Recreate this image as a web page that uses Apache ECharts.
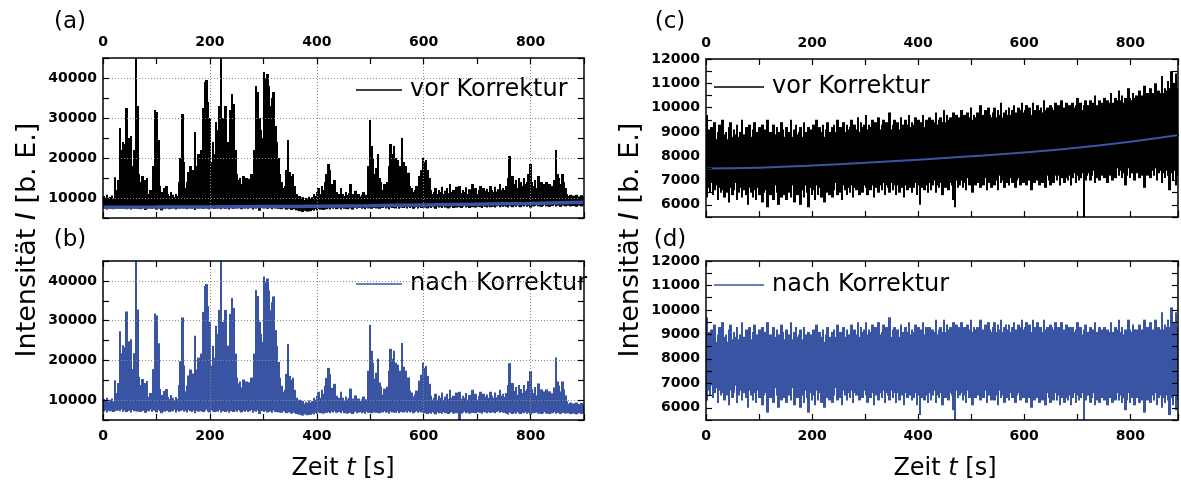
<!DOCTYPE html>
<html><head><meta charset="utf-8">
<script src="https://cdn.jsdelivr.net/npm/echarts@6/dist/echarts.min.js"></script>
<style>html,body{margin:0;padding:0;background:#fff}#c{width:1181px;height:483px}</style>
</head><body><div id="c"></div>
<script>
// ---------- data ----------
const binWidth = 3; // seconds per sample bin (each bin: max / min)
const xLabelValues = [0, 200, 400, 600, 800];
const yLabelsAB = [10000, 20000, 30000, 40000];
const yLabelsCD = [6000, 7000, 8000, 9000, 10000, 11000, 12000];
const xGridValues = [200, 400, 600, 800];
const yGridAB = [10000, 20000, 30000, 40000];

// (a) vor Korrektur – bin maxima / minima
const aHi = [
10500,10000,10800,9800,10300,10600,9900,15200,12000,14500,
27500,22000,24000,23500,32500,21000,25000,25500,18000,22000,
46000,33000,16000,14000,15500,12000,14500,15000,11000,12000,
10800,18000,32000,31500,24500,13000,11500,10500,12500,13000,
11000,10500,11500,10800,10200,11000,10500,14000,20000,31000,
19000,12500,14000,16500,18000,13000,17000,26500,18000,21000,
16000,22000,32500,39000,39500,34000,30000,19000,24000,21000,
29000,27000,33000,46000,30000,28000,33000,24000,21000,32000,
36000,33500,22000,16000,14500,15000,13500,15500,14000,15000,
13500,14800,16000,15000,22000,38000,36500,30000,27000,25000,
41500,40000,41000,38000,33000,35000,36500,28000,24000,20000,
16000,14000,12500,13000,17000,24500,16500,15500,16000,13000,
11000,10000,10500,9800,10200,9500,10000,9700,10300,9800,
10200,11000,10500,11500,12500,11000,13000,12000,14000,16000,
18500,17000,13500,12000,14500,11500,10800,11000,12500,11000,
10500,11500,10800,11200,13500,11000,10500,11800,10600,11000,
10400,10800,11500,10500,10800,18000,29500,23000,20000,16000,
17500,21000,15000,14000,12000,13500,12500,14000,18000,23500,
21000,23000,20000,19500,17000,18000,25000,19000,18000,14000,
16300,13000,12500,11500,12000,13000,12000,15500,17000,20000,
19000,19500,17000,15000,12000,11000,11500,12500,11000,12000,
11500,12800,11000,11800,12500,11200,13500,11500,12000,11000,
12800,11500,13000,11200,12000,11500,12700,11000,12200,11500,
13500,11800,12500,11000,12000,13000,11500,12500,11800,12300,
11500,13000,12000,11500,12800,11600,12200,13500,12000,12500,
12000,13000,15000,20500,14000,15500,13500,14500,12500,15000,
14000,13000,15000,13500,14000,16000,18500,14000,13000,14500,
12500,15500,13000,14000,12500,13500,14000,12800,13500,12500,
13000,14500,22000,16000,15000,13500,16000,14000,12500,11000,
10500,10800,10200,10600,10300,10800,10400,10200,10700,10300];
const aLo = [
7300,7600,7100,7500,7400,7700,7200,7800,7500,7600,
7400,7900,7300,7600,7200,7800,7500,7100,7700,7400,
7600,7300,7800,7200,7500,7700,7000,7600,7400,7800,
7300,7600,7500,7100,7700,7400,6900,7600,7300,7500,
7700,7200,7500,7400,7800,7100,7600,7300,7500,7700,
7400,7600,7200,7800,7500,7300,7700,7000,7600,7400,
7800,7500,7300,7600,7900,7400,7200,7700,7500,7300,
7600,7400,7800,7200,7500,7700,7300,7600,7100,7500,
7700,7300,7600,7400,7800,7500,7200,7600,7400,7700,
7300,7500,7800,7100,7600,7400,7700,6800,7500,7600,
7400,7700,7300,7600,7500,7200,7800,7400,7600,7300,
7500,7200,7600,7400,7100,7500,7300,7000,7400,7200,
6900,7200,6700,7000,6500,6800,7100,6600,6900,6700,
7000,6800,7200,6900,7300,7100,7400,7000,7300,7200,
7400,7100,7500,7300,7600,7200,7500,7400,7100,7600,
7300,7500,7200,7600,7400,7100,7500,7700,7300,7500,
7600,7300,7500,7200,7700,7400,7600,7300,7800,7500,
7400,7700,7300,7600,7500,7800,7400,7600,7200,7700,
7500,7700,7400,7800,7300,7600,7900,7500,7700,7400,
7800,7500,7700,7300,7600,7800,7400,7700,7500,7900,
7600,7800,7400,7700,7500,7900,7600,7300,7800,7600,
7700,7500,7900,7600,7800,7400,7700,7900,7500,7800,
7600,7900,7700,7500,7800,8000,7600,7800,7500,7900,
7700,7900,7600,7800,8000,7700,7500,7900,7800,7600,
7900,7700,8000,7800,7600,7900,8100,7700,7900,7800,
8000,7800,7600,8100,7900,7700,8000,7800,8200,7900,
7700,8000,7900,8200,7800,8000,7600,8100,7900,8000,
8200,7900,8100,7800,8000,8300,7900,8100,7800,8200,
8000,8300,7900,8100,8200,7800,8100,8300,7900,8200,
8100,7900,8300,8000,8200,7800,8100,8300,7900,8100];
// (a) baseline fit
const fitATime = [0, 100, 200, 300, 400, 500, 600, 700, 800, 900];
const fitAVal  = [7700, 7720, 7780, 7850, 7950, 8080, 8250, 8450, 8650, 8950];

// (b) nach Korrektur
const bHi = [
10300,9800,10600,9600,10100,10400,9700,15000,11800,14300,
27300,21800,23800,23300,32300,20800,24800,25300,17800,21800,
45800,32800,15800,13800,15300,11800,14300,14800,10800,11800,
10600,17800,31800,31300,24300,12800,11300,10300,12300,12800,
10800,10300,11300,10600,10000,10800,10300,13800,19800,30800,
18700,12200,13700,16200,17700,12700,16700,26200,17700,20700,
15700,21700,32200,38700,39200,33700,29700,18700,23700,20700,
28700,26700,32700,45700,29700,27700,32700,23700,20700,31700,
35700,33200,21700,15700,14200,14700,13200,15200,13700,14700,
13200,14500,15700,14700,21700,37700,36200,29700,26700,24700,
41100,39600,40600,37600,32600,34600,36100,27600,23600,19600,
15600,13600,12100,12600,16600,24100,16100,15100,15600,12600,
10600,9600,10100,9400,9800,9100,9600,9300,9900,9400,
9800,10600,10100,11100,12100,10600,12600,11600,13600,15600,
18100,16600,13100,11600,14100,11100,10400,10600,12100,10600,
9900,10900,10200,10600,12900,10400,9900,11200,10000,10400,
9800,10200,10900,9900,10200,17400,28900,22400,19400,15400,
16900,20400,14400,13400,11400,12900,11900,13400,17400,22900,
20400,22400,19400,18900,16400,17400,24400,18400,17400,13400,
15700,12400,11900,10900,11400,12400,11400,14900,16400,19400,
18100,18600,16100,14100,11100,10100,10600,11600,10100,11100,
10600,11900,10100,10900,11600,10300,12600,10600,11100,10100,
11900,10600,12100,10300,11100,10600,11800,10100,11300,10600,
12600,10900,11600,10100,11100,12100,10600,11600,10900,11400,
10600,12100,11100,10600,11900,10700,11300,12600,11100,11600,
10800,11800,13800,19300,12800,14300,12300,13300,11300,13800,
12800,11800,13800,12300,12800,14800,17300,12800,11800,13300,
11200,14200,11700,12700,11200,12200,12700,11500,12200,11200,
11700,13200,20700,14700,13700,12200,14700,12700,11200,9700,
9100,9400,8800,9200,8900,9400,9000,8800,9300,8900];
const bLo = [
7100,7400,6900,7300,7200,7500,7000,7600,7300,7400,
7200,7700,7100,7400,7000,7600,7300,6900,7500,7200,
7400,7100,7600,7000,7300,7500,6800,7400,7200,7600,
7100,7400,7300,6900,7500,7200,6700,7400,7100,7300,
7500,7000,7300,7200,7600,6900,7400,7100,7300,7500,
7100,7300,6900,7500,7200,7000,7400,6700,7300,7100,
7500,7200,7000,7300,7600,7100,6900,7400,7200,7000,
7300,7100,7500,6900,7200,7400,7000,7300,6800,7200,
7400,7000,7300,7100,7500,7200,6900,7300,7100,7400,
7000,7200,7500,6800,7300,7100,7400,6500,7200,7300,
7000,7300,6900,7200,7100,6800,7400,7000,7200,6900,
7100,6800,7200,7000,6700,7100,6900,6600,7000,6800,
6500,6800,6300,6600,6100,6400,6700,6200,6500,6300,
6600,6400,6800,6500,6900,6700,7000,6600,6900,6800,
7000,6700,7100,6900,7200,6800,7100,7000,6700,7200,
6700,6900,6600,7000,6800,6500,6900,7100,6700,6900,
7000,6700,6900,6600,7100,6800,7000,6700,7200,6900,
6800,7100,6700,7000,6900,7200,6800,7000,6600,7100,
6900,7100,6800,7200,6700,7000,7300,6900,7100,6800,
7200,6900,7100,6700,7000,7200,6800,7100,6900,7300,
6700,6900,6500,6800,6600,7000,6700,6400,6900,6700,
6800,6600,7000,6700,6900,6500,6800,7000,6600,6900,
6700,7000,4800,6600,6900,7100,6700,6900,6600,7000,
6800,7000,6700,6900,7100,6800,6600,7000,6900,6700,
7000,6800,7100,6900,6700,7000,7200,6800,7000,6900,
6800,6600,6400,6900,6700,6500,6800,6600,7000,6700,
6500,6800,6700,7000,6600,6800,6400,6900,6700,6800,
6900,6600,6800,6500,6700,7000,6600,6800,6500,6900,
6700,7000,6600,6800,6900,6500,6800,7000,6600,6900,
6700,6500,6900,6600,6800,6400,6700,6900,6500,6700];

// (c) vor Korrektur
const cHi = [
9700,9100,8800,9200,8900,9400,8700,9000,9300,8800,
9500,8900,9000,8700,9200,9400,8800,9100,8900,9300,
8800,9000,9500,8900,8700,9200,9000,9300,8800,9100,
9400,8900,9000,9200,8700,9300,8800,9100,9500,8900,
9000,8800,9300,8900,9200,9000,8700,9400,9100,8800,
9200,8900,9000,9500,8800,9100,9300,8900,9000,9200,
8800,9400,9000,8900,9200,9100,8700,9300,9000,9500,
8900,9200,9000,9300,8800,9100,9400,9000,8900,9200,
9300,9000,9500,8900,9200,9100,9400,9000,9300,9100,
9200,9500,9000,9300,9100,9600,9000,9400,9200,9300,
9700,9100,9300,9200,9500,9000,9400,9200,9600,9100,
9300,9500,9100,9400,9200,9800,9100,9300,9500,9200,
9400,9100,9600,9300,9200,9500,9300,9700,9200,9400,
9300,9600,9200,9500,9300,9400,9700,9200,9500,9300,
9600,9300,9500,9400,9800,9300,9500,9600,9400,9900,
9400,9700,9500,9600,9400,9800,9500,9700,9400,9600,
9900,9500,9700,9400,9800,9600,10000,9500,9700,9600,
9800,9500,10100,9600,9700,9900,9500,10000,9700,9600,
9800,10000,9600,9900,9700,10200,9600,9800,9900,9700,
10000,9700,9900,10100,9800,9700,10000,9900,10200,9800,
9900,10100,9800,10000,9700,10200,9900,9800,10100,9900,
10000,9800,10300,9900,10000,9800,10100,10000,9900,10200,
9900,10100,10000,10300,9900,10000,10200,9900,10100,10000,
10200,10000,10100,10400,10000,10200,9900,10100,10300,10000,
10100,10300,10000,10200,10500,10100,10000,10300,10200,10100,
10400,10100,10300,10200,10600,10200,10100,10400,10300,10700,
10300,10500,10200,10400,10300,10800,10400,10300,10600,10400,
10500,10300,10700,10400,10500,10900,10400,10600,10500,10800,
10600,10400,11000,10500,10700,10600,11300,10600,10800,10700,
11100,10800,11500,10900,11000,11400,10800,11200,11000,11300];
const cLo = [
6300,6700,6500,6900,6400,6600,6800,6200,6700,6500,
6600,6300,6800,6500,6100,6700,6400,6600,6900,6200,
6500,6700,6300,6600,6800,6400,6000,6700,6500,6300,
6600,6200,6700,6400,6800,6100,6500,6600,5900,6700,
6400,6600,6200,6800,6500,6000,6700,6300,6600,6400,
6200,6700,6500,6300,6800,6100,6600,6400,6700,6000,
6600,6300,6800,6500,5900,6700,6400,6600,6200,6800,
6400,6700,6300,6600,6100,6800,6500,6400,6700,6300,
6600,6900,6400,6700,6500,6200,6800,6600,6400,6700,
6500,6800,6300,6700,6600,6900,6400,6700,6500,6800,
6700,6400,6900,6600,6800,6300,6700,6900,6500,6800,
6600,6900,6400,6800,6700,6500,6900,6600,6800,6400,
6800,6500,6900,6700,6300,6800,6600,6900,6700,6500,
6700,6900,6400,6800,6000,6700,6900,6600,6800,6500,
6900,6600,6800,7000,6500,6800,6700,6900,6400,6800,
6700,7000,6600,6900,6800,6200,5900,7000,6700,6800,
7000,6700,6900,6600,7100,6800,6900,6500,7000,6800,
6900,7100,6700,7000,6800,7100,6600,6900,7000,6700,
7100,6800,7000,6600,7200,6900,7000,6700,7100,6900,
6800,7100,6900,7200,6700,7000,7100,6800,7200,6900,
7100,6800,7200,7000,6600,7100,6900,7200,7000,6800,
7200,6900,7100,6700,7200,7000,6800,7100,6900,7200,
7000,7200,6800,7100,7300,6900,7100,7000,7200,6800,
7100,7300,6900,7200,7000,7100,7300,5400,7000,7200,
7300,7000,7200,7400,6900,7100,7300,7000,7200,7400,
7100,7300,6900,7200,7400,7000,7300,7100,7500,7200,
7400,7100,7300,6800,7200,7500,7100,7300,7400,7000,
7300,7500,7100,7400,7200,6700,7400,7200,7500,7100,
7400,7200,7500,7000,7300,7400,6900,7300,7100,7400,
7200,6600,7300,7000,7400,6800,7200,7100,6500,7300];
const fitCTime = [0, 100, 200, 300, 400, 500, 600, 700, 800, 900];
const fitCVal  = [7500, 7530, 7620, 7730, 7860, 8000, 8150, 8350, 8600, 8900];

// (d) nach Korrektur
const dHi = [
9700,9100,8800,9200,8900,9400,8700,9000,9300,8800,
9500,8900,9000,8700,9200,9400,8800,9100,8900,9300,
8800,9000,9500,8900,8700,9200,9000,9300,8800,9100,
9400,8900,9000,9200,8700,9300,8800,9100,9500,8900,
9000,8800,9300,8900,9200,9000,8700,9400,9100,8800,
9200,8900,9000,9500,8800,9100,9300,8900,9000,9200,
8800,9300,9000,8900,9100,9000,8700,9200,8900,9400,
8800,9100,8900,9200,8700,9000,9300,8900,8800,9100,
9200,8900,9400,8800,9100,9000,9300,8900,9200,9000,
9000,9400,8900,9200,9000,9500,8900,9300,9100,9200,
9500,9000,9200,9100,9400,8900,9300,9100,9500,9000,
9100,9400,8900,9300,9000,9700,8900,9200,9300,9000,
9200,8900,9400,9100,9000,9300,9100,9500,9000,9200,
9100,9400,9000,9300,9100,9200,9500,9000,9300,9100,
9300,9000,9200,9100,9600,9000,9200,9300,9100,9600,
9100,9400,9200,9300,9100,9500,9200,9400,9100,9300,
9500,9100,9300,9000,9400,9200,9600,9100,9300,9200,
9300,9000,9600,9100,9200,9400,9000,9500,9200,9100,
9300,9500,9100,9400,9200,9600,9100,9300,9400,9200,
9400,9100,9300,9500,9200,9100,9400,9300,9600,9200,
9300,9500,9200,9400,9100,9600,9300,9200,9500,9300,
9300,9100,9600,9200,9300,9100,9400,9300,9200,9500,
9100,9300,9200,9500,9100,9200,9400,9100,9300,9200,
9300,9100,9200,9500,9100,9300,9000,9200,9400,9100,
9100,9300,9000,9200,9500,9100,9000,9300,9200,9100,
9300,9000,9200,9100,9500,9100,9000,9300,9200,9600,
9100,9300,9000,9200,9100,9600,9200,9100,9400,9200,
9200,9000,9400,9100,9200,9600,9100,9300,9200,9500,
9200,9000,9600,9100,9300,9200,9900,9200,9400,9300,
9600,9300,10100,9400,9500,9900,9300,9700,9500,9800];
const dLo = [
6300,6700,6500,6900,6400,6600,6800,6200,6700,6500,
6600,6300,6800,6500,6100,6700,6400,6600,6900,6200,
6500,6700,6300,6600,6800,6400,6000,6700,6500,6300,
6600,6200,6700,6400,6800,6100,6500,6600,5800,6700,
6400,6600,6200,6800,6500,6000,6700,6300,6600,6400,
6200,6700,6500,6300,6800,6100,6600,6400,6700,6000,
6500,6200,6700,6400,5800,6600,6300,6500,6100,6700,
6300,6600,6200,6500,6000,6700,6400,6300,6600,6200,
6500,6800,6300,6600,6400,6100,6700,6500,6300,6600,
6400,6700,6200,6600,6500,6800,6300,6600,6400,6700,
6500,6200,6700,6400,6600,6100,6500,6700,6300,6600,
6400,6700,6200,6600,6500,6300,6700,6400,6600,6200,
6600,6300,6700,6500,6100,6600,6400,6700,6500,6300,
6400,6600,6100,6500,5700,6400,6600,6300,6500,6200,
6600,6300,6500,6700,6200,6500,6400,6600,6100,6500,
6400,6700,6300,6600,6500,5900,5400,6700,6400,6500,
6600,6300,6500,6200,6700,6400,6500,6100,6600,6400,
6500,6700,6300,6600,6400,6700,6200,6500,6600,6300,
6600,6300,6500,6100,6700,6400,6500,6200,6600,6400,
6300,6600,6400,6700,6200,6500,6600,6300,6700,6400,
6500,6200,6600,6400,6000,6500,6300,6600,6400,6200,
6600,6300,6500,6100,6600,6400,6200,6500,6300,6600,
6300,6500,6100,6400,6600,6200,6400,6300,6500,6100,
6400,6600,6200,6500,6300,6400,6600,5400,6300,6500,
6500,6200,6400,6600,6100,6300,6500,6200,6400,6600,
6300,6500,6100,6400,6600,6200,6500,6300,6600,6300,
6500,6200,6400,5900,6300,6600,6200,6400,6500,6100,
6400,6600,6200,6500,6300,5800,6500,6300,6600,6200,
6500,6300,6600,6100,6400,6500,6000,6400,6200,6500,
6300,5700,6400,6100,6500,5900,6300,6200,5400,6400];

// ---------- build ----------
const times = aHi.map((_, i) => i * binWidth);
function pairs(t, v) { return t.map((x, i) => [x, v[i]]); }
function triples(hi, lo) { return hi.map((h, i) => [times[i], lo[i], h]); }

const BLUE = '#3a54a4';
const FONT = 'DejaVu Sans';

const grids = [
  { left: 103, top: 58, width: 481, height: 160 },
  { left: 103, top: 261, width: 481, height: 159 },
  { left: 706, top: 59, width: 475, height: 158 },
  { left: 706, top: 261, width: 475, height: 159 }
];

const lineStyleAxis = { color: '#000', width: 1.5 };
function xAxes(g, labelPos, xmax) {
  const base = {
    type: 'value', gridIndex: g, min: 0, max: xmax, interval: 100, z: 10,
    axisLine: { show: true, onZero: false, lineStyle: lineStyleAxis },
    axisTick: { show: true, inside: true, length: 6, lineStyle: { color: '#000', width: 1.2 } },
    splitLine: { show: false },
    axisLabel: { show: false }
  };
  const lab = {
    show: true, margin: 9, color: '#000', fontFamily: FONT, fontWeight: 'bold', fontSize: 14,
    formatter: v => xLabelValues.includes(v) ? String(v) : ''
  };
  return [
    Object.assign({}, base, { position: 'bottom', axisLabel: labelPos === 'bottom' ? lab : { show: false } }),
    Object.assign({}, base, { position: 'top', axisLabel: labelPos === 'top' ? lab : { show: false } })
  ];
}
function yAxes(g, min, max, interval, labels) {
  const base = {
    type: 'value', gridIndex: g, min: min, max: max, interval: interval, z: 10,
    axisLine: { show: true, onZero: false, lineStyle: lineStyleAxis },
    axisTick: { show: true, inside: true, length: 6, lineStyle: { color: '#000', width: 1.2 } },
    splitLine: { show: false }
  };
  return [
    Object.assign({}, base, { position: 'left', axisLabel: {
      show: true, margin: 6, color: '#000', fontFamily: FONT, fontWeight: 'bold', fontSize: 14,
      formatter: v => labels.includes(v) ? String(v) : '' } }),
    Object.assign({}, base, { position: 'right', axisLabel: { show: false } })
  ];
}

// the right-hand panels are cut at the page edge (about 890 s)
const xAxis = [].concat(xAxes(0, 'top', 900), xAxes(1, 'bottom', 900), xAxes(2, 'top', 890), xAxes(3, 'bottom', 890));
const yAxis = [].concat(
  yAxes(0, 5000, 45000, 5000, yLabelsAB), yAxes(1, 5000, 45000, 5000, yLabelsAB),
  yAxes(2, 5500, 12000, 500, yLabelsCD), yAxes(3, 5500, 12000, 500, yLabelsCD));

function gridSeries(idx) {
  return {
    type: 'line', xAxisIndex: idx * 2, yAxisIndex: idx * 2, data: [], z: 1, silent: true,
    markLine: {
      silent: true, symbol: ['none', 'none'], label: { show: false }, animation: false,
      lineStyle: { type: [1, 2], color: '#8a8a8a', width: 1 },
      data: xGridValues.map(v => ({ xAxis: v })).concat(yGridAB.map(v => ({ yAxis: v })))
    }
  };
}
// noise band: one column per sample bin, from the bin minimum to the bin maximum
// (columns are snapped to whole pixels so neighbouring columns join without seams)
function bandSeries(name, idx, hi, lo, color) {
  return {
    name: name, type: 'custom', xAxisIndex: idx * 2, yAxisIndex: idx * 2, z: 3,
    data: triples(hi, lo), encode: { x: 0, y: [1, 2] }, clip: true, silent: true,
    color: color, itemStyle: { color: color },
    renderItem: function (params, api) {
      const t = api.value(0);
      const p1 = api.coord([t, api.value(2)]);
      const p2 = api.coord([t + binWidth, api.value(1)]);
      const x0 = Math.floor(p1[0]);
      const x1 = Math.max(x0 + 1, Math.ceil(p2[0]));
      return {
        type: 'rect',
        shape: { x: x0, y: p1[1], width: x1 - x0, height: p2[1] - p1[1] },
        style: { fill: color }
      };
    }
  };
}
function fitSeries(idx, data, w) {
  return {
    name: 'Fit', type: 'line', xAxisIndex: idx * 2, yAxisIndex: idx * 2, data: data, z: 4,
    showSymbol: false, symbol: 'none', smooth: true, color: BLUE, clip: true,
    lineStyle: { color: BLUE, width: w }
  };
}

const series = [
  gridSeries(0),
  bandSeries('vor Korrektur', 0, aHi, aLo, '#000'),
  fitSeries(0, pairs(fitATime, fitAVal), 3.5),
  gridSeries(1),
  bandSeries('nach Korrektur', 1, bHi, bLo, BLUE),
  bandSeries('vor Korrektur', 2, cHi, cLo, '#000'),
  fitSeries(2, pairs(fitCTime, fitCVal), 2),
  bandSeries('nach Korrektur', 3, dHi, dLo, BLUE)
];

function legend(name, left, top, w) {
  return {
    data: [name], left: left, top: top, padding: 0, icon: 'rect', itemWidth: w, itemHeight: 1.5,
    selectedMode: false,
    textStyle: { fontFamily: FONT, fontSize: 24, color: '#000', padding: [0, 0, 0, 3] }
  };
}

function txt(x, y, text, size, rot) {
  return {
    type: 'text', x: x, y: y, rotation: rot || 0, silent: true,
    style: {
      text: text, fill: '#000', fontFamily: FONT, fontSize: size,
      textAlign: 'center', textVerticalAlign: 'middle', align: 'center', verticalAlign: 'middle',
      rich: { i: { fontStyle: 'italic', fontFamily: FONT, fontSize: size, fill: '#000' } }
    }
  };
}

const chart = echarts.init(document.getElementById('c'));
chart.setOption({
  animation: false,
  backgroundColor: '#fff',
  grid: grids,
  xAxis: xAxis,
  yAxis: yAxis,
  legend: [
    legend('vor Korrektur', 356, 78, 46),
    legend('nach Korrektur', 356, 272, 46),
    legend('vor Korrektur', 714, 75, 50),
    legend('nach Korrektur', 714, 273, 50)
  ],
  series: series,
  graphic: [
    txt(70, 22, '(a)', 23),
    txt(70, 240, '(b)', 23),
    txt(670, 22, '(c)', 23),
    txt(670, 240, '(d)', 23),
    txt(28, 240, 'Intensität {i|I} [b. E.]', 27, Math.PI / 2),
    txt(631, 240, 'Intensität {i|I} [b. E.]', 27, Math.PI / 2),
    txt(343, 469, 'Zeit {i|t} [s]', 24),
    txt(945, 469, 'Zeit {i|t} [s]', 24)
  ]
});
</script></body></html>
